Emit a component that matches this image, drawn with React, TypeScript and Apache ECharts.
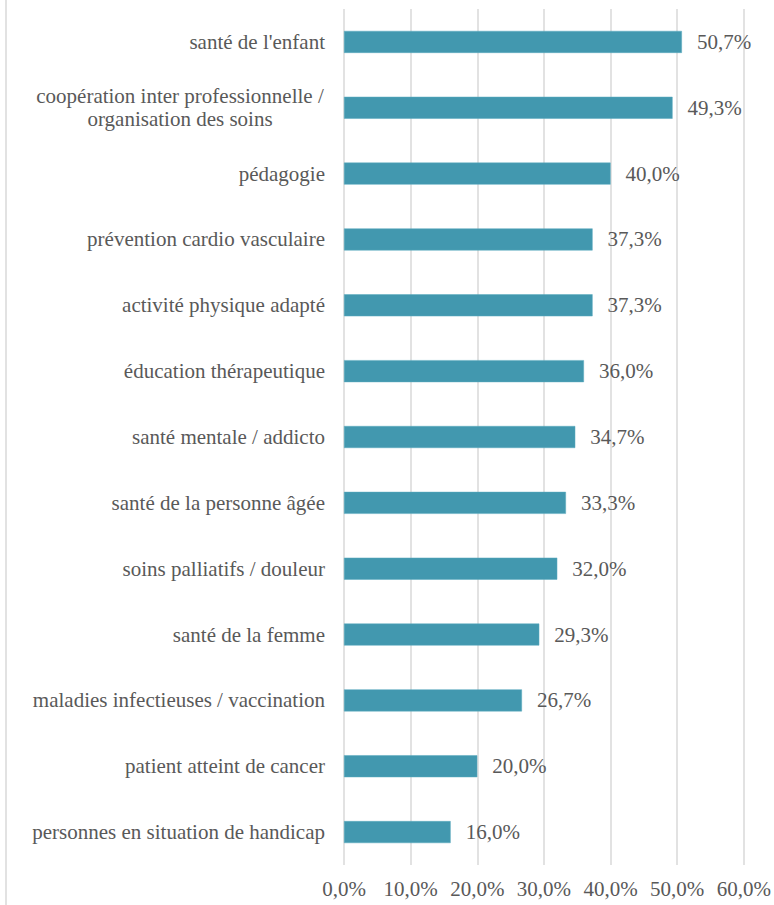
import React, { useEffect, useRef } from "react";
import * as echarts from "echarts";

const categories = [
  "santé de l'enfant",
  "coopération inter professionnelle /\norganisation des soins",
  "pédagogie",
  "prévention cardio vasculaire",
  "activité physique adapté",
  "éducation thérapeutique",
  "santé mentale / addicto",
  "santé de la personne âgée",
  "soins palliatifs / douleur",
  "santé de la femme",
  "maladies infectieuses / vaccination",
  "patient atteint de cancer",
  "personnes en situation de handicap",
];
const values = [50.7, 49.3, 40.0, 37.3, 37.3, 36.0, 34.7, 33.3, 32.0, 29.3, 26.7, 20.0, 16.0];
const xMin = 0;
const xMax = 60;
const xStep = 10;

const fmt = (v: number) => v.toFixed(1).replace(".", ",") + "%";
const FONT = "Liberation Serif";
const FS = 21;

export default function App() {
  const ref = useRef<HTMLDivElement>(null);
  useEffect(() => {
    if (!ref.current) return;
    const chart = echarts.init(ref.current, null, { renderer: "svg" });
    chart.setOption({
      animation: false,
      backgroundColor: "#ffffff",
      textStyle: { fontFamily: FONT },
      grid: { left: 344, right: 28, top: 9, bottom: 40, containLabel: false },
      xAxis: {
        type: "value",
        min: xMin,
        max: xMax,
        interval: xStep,
        axisLine: { show: false },
        axisTick: { show: false },
        splitLine: { show: true, lineStyle: { color: "#d9d9d9", width: 1.5 } },
        axisLabel: {
          formatter: (v: number) => fmt(v),
          color: "#595959",
          fontFamily: FONT,
          fontSize: FS,
          margin: 13,
        },
      },
      yAxis: {
        type: "category",
        data: categories,
        inverse: true,
        axisLine: { show: false },
        axisTick: { show: false },
        splitLine: { show: false },
        axisLabel: {
          color: "#595959",
          fontFamily: FONT,
          fontSize: FS,
          margin: 19,
          lineHeight: 23,
          formatter: (v: string) => {
            if (v.indexOf("\n") >= 0) {
              return v
                .split("\n")
                .map((l) => "{c|" + l + "}")
                .join("\n");
            }
            return v;
          },
          rich: {
            c: {
              width: 290,
              align: "center",
              color: "#595959",
              fontFamily: FONT,
              fontSize: FS,
              lineHeight: 23,
            },
          },
        },
      },
      series: [
        {
          type: "bar",
          data: values,
          barWidth: 22,
          itemStyle: { color: "#4298AF", borderColor: "#5aaabf", borderWidth: 0.5 },
          label: {
            show: true,
            position: "right",
            distance: 15,
            formatter: (p: any) => fmt(p.value),
            color: "#595959",
            fontFamily: FONT,
            fontSize: FS,
          },
        },
      ],
      graphic: [
        {
          type: "line",
          shape: { x1: 6, y1: 0, x2: 6, y2: 905 },
          style: { stroke: "#d9d9d9", lineWidth: 1.5 },
        },
      ],
    });
    return () => chart.dispose();
  }, []);
  return (
    <div
      ref={ref}
      style={{ position: "fixed", left: 0, top: 0, width: 774, height: 905 }}
    />
  );
}
